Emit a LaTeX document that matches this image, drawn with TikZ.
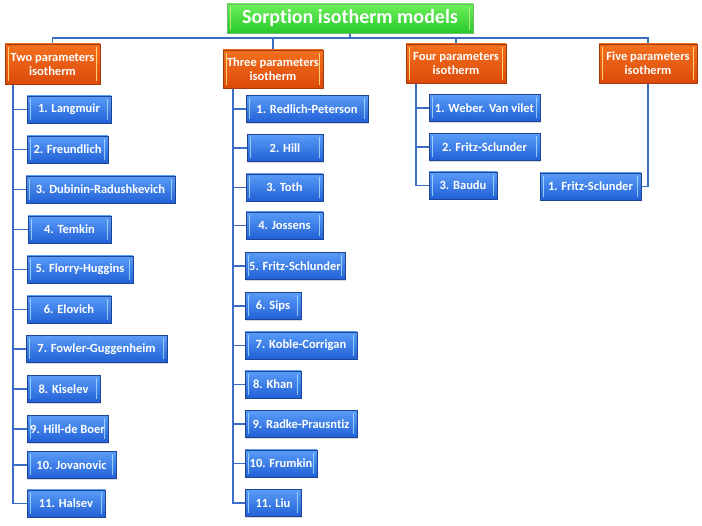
\documentclass[tikz,border=0pt]{standalone}
\usepackage{fontspec}
\setmainfont{Carlito}[Ligatures=NoCommon]
\usetikzlibrary{shadows,backgrounds}
\definecolor{bluetop}{HTML}{5A9CF8}
\definecolor{bluebot}{HTML}{2160D6}
\definecolor{blueedge}{HTML}{1C4596}
\definecolor{linkblue}{HTML}{3A6CC6}
\definecolor{orangetop}{HTML}{F4701E}
\definecolor{orangebot}{HTML}{DC4A0A}
\definecolor{orangeedge}{HTML}{A8380A}
\definecolor{greentop}{HTML}{6CF05A}
\definecolor{greenbot}{HTML}{28C82A}
\definecolor{greenedge}{HTML}{6FB86A}
\tikzset{
  bevel/.style={path picture={
    \draw[#1,line width=1.3pt,opacity=0.75]
      ([xshift=3.5pt,yshift=-3pt]path picture bounding box.north west) --
      ([xshift=3.5pt,yshift=3pt]path picture bounding box.south west);
    \draw[#1,line width=1.3pt,opacity=0.75]
      ([xshift=-3.5pt,yshift=-3pt]path picture bounding box.north east) --
      ([xshift=-3.5pt,yshift=3pt]path picture bounding box.south east);}},
  bbox/.style={rectangle, top color=bluetop, bottom color=bluebot, draw=blueedge,
    line width=0.6pt, minimum height=27pt, inner sep=0pt, text=white,
    font=\bfseries\fontsize{12.5}{14}\selectfont,
    drop shadow={opacity=0.3,shadow xshift=1.2pt,shadow yshift=-1.5pt},
    bevel={white!70!cyan}},
  obox/.style={rectangle, top color=orangetop, bottom color=orangebot, draw=orangeedge,
    line width=0.6pt, inner sep=0pt, text=white, align=center,
    font=\bfseries\fontsize{12.5}{14}\selectfont,
    drop shadow={opacity=0.3,shadow xshift=1.2pt,shadow yshift=-1.5pt},
    bevel={yellow!40!white}},
  gbox/.style={rectangle, top color=greentop, bottom color=greenbot, draw=greenedge,
    line width=0.8pt, inner sep=0pt, text=white,
    font=\bfseries\fontsize{20}{22}\selectfont,
    drop shadow={opacity=0.3,shadow xshift=1.2pt,shadow yshift=-1.5pt},
    bevel={yellow!60!green!40!white}},
  link/.style={draw=linkblue, line width=1.8pt}
}
\begin{document}
\begin{tikzpicture}[x=1pt,y=-1pt]
\useasboundingbox (0,0) rectangle (702,526);
% title
\node[gbox, minimum width=246pt, minimum height=29pt] (title) at (350,18.5) {Sorption isotherm models};
% level 1
\node[obox, minimum width=95pt, minimum height=40pt] (two) at (52.5,64) {Two parameters\\isotherm};
\node[obox, minimum width=100pt, minimum height=38pt] (three) at (273,69) {Three parameters\\isotherm};
\node[obox, minimum width=100pt, minimum height=39pt] (four) at (456,63.5) {Four parameters\\isotherm};
\node[obox, minimum width=98pt, minimum height=39pt] (five) at (648,63.5) {Five parameters\\isotherm};
% two-parameter
\node[bbox, minimum width=84pt] (l1) at (69,109.5) {1. Langmuir};
\node[bbox, minimum width=81pt] (l2) at (67.5,149.5) {2. Freundlich};
\node[bbox, minimum width=149pt] (l3) at (100.5,189.5) {3. Dubinin-Radushkevich};
\node[bbox, minimum width=83pt] (l4) at (69.5,229.5) {4. Temkin};
\node[bbox, minimum width=106pt] (l5) at (80,269.5) {5. Florry-Huggins};
\node[bbox, minimum width=84pt] (l6) at (69,309.5) {6. Elovich};
\node[bbox, minimum width=141pt] (l7) at (96.5,349) {7. Fowler-Guggenheim};
\node[bbox, minimum width=73pt] (l8) at (63.5,389) {8. Kiselev};
\node[bbox, minimum width=81pt] (l9) at (67.5,429) {9. Hill-de Boer};
\node[bbox, minimum width=89pt] (l10) at (71.5,465) {10. Jovanovic};
\node[bbox, minimum width=78pt] (l11) at (66,503.5) {11. Halsev};
% three-parameter
\node[bbox, minimum width=122pt] (m1) at (307,109) {1. Redlich-Peterson};
\node[bbox, minimum width=76pt] (m2) at (285,148) {2. Hill};
\node[bbox, minimum width=77pt] (m3) at (284.5,187.5) {3. Toth};
\node[bbox, minimum width=77pt] (m4) at (284.5,225.5) {4. Jossens};
\node[bbox, minimum width=100pt] (m5) at (295,266) {5. Fritz-Schlunder};
\node[bbox, minimum width=56pt] (m6) at (273,306) {6. Sips};
\node[bbox, minimum width=112pt] (m7) at (301,345.5) {7. Koble-Corrigan};
\node[bbox, minimum width=56pt] (m8) at (273,384.5) {8. Khan};
\node[bbox, minimum width=112pt] (m9) at (301,424) {9. Radke-Prausntiz};
\node[bbox, minimum width=72pt] (m10) at (281,463.5) {10. Frumkin};
\node[bbox, minimum width=56pt] (m11) at (273,503) {11. Liu};
% four-parameter
\node[bbox, minimum width=111pt] (r1) at (484.5,108) {1. Weber. Van vilet};
\node[bbox, minimum width=111pt] (r2) at (484.5,147) {2. Fritz-Sclunder};
\node[bbox, minimum width=68pt] (r3) at (463,185.5) {3. Baudu};
% five-parameter
\node[bbox, minimum width=101pt] (f1) at (590.5,186.5) {1. Fritz-Sclunder};
% connectors
\begin{scope}[on background layer]
\coordinate (bus) at (350,38);
\draw[link] (title.south) -- (bus) -| (two.north);
\draw[link] (bus) -| (three.north);
\draw[link] (bus) -| (four.north);
\draw[link] (bus) -| (five.north);
\coordinate (twoL) at ([xshift=8pt]two.south west);
\coordinate (threeL) at ([xshift=10pt]three.south west);
\coordinate (fourL) at ([xshift=10pt]four.south west);
\foreach \k in {1,...,11} {\draw[link] (twoL) |- (l\k.west);}
\foreach \k in {1,...,11} {\draw[link] (threeL) |- (m\k.west);}
\foreach \k in {1,2,3} {\draw[link] (fourL) |- (r\k.west);}
\draw[link] (five.south) |- (f1.east);
\end{scope}
\end{tikzpicture}
\end{document}
